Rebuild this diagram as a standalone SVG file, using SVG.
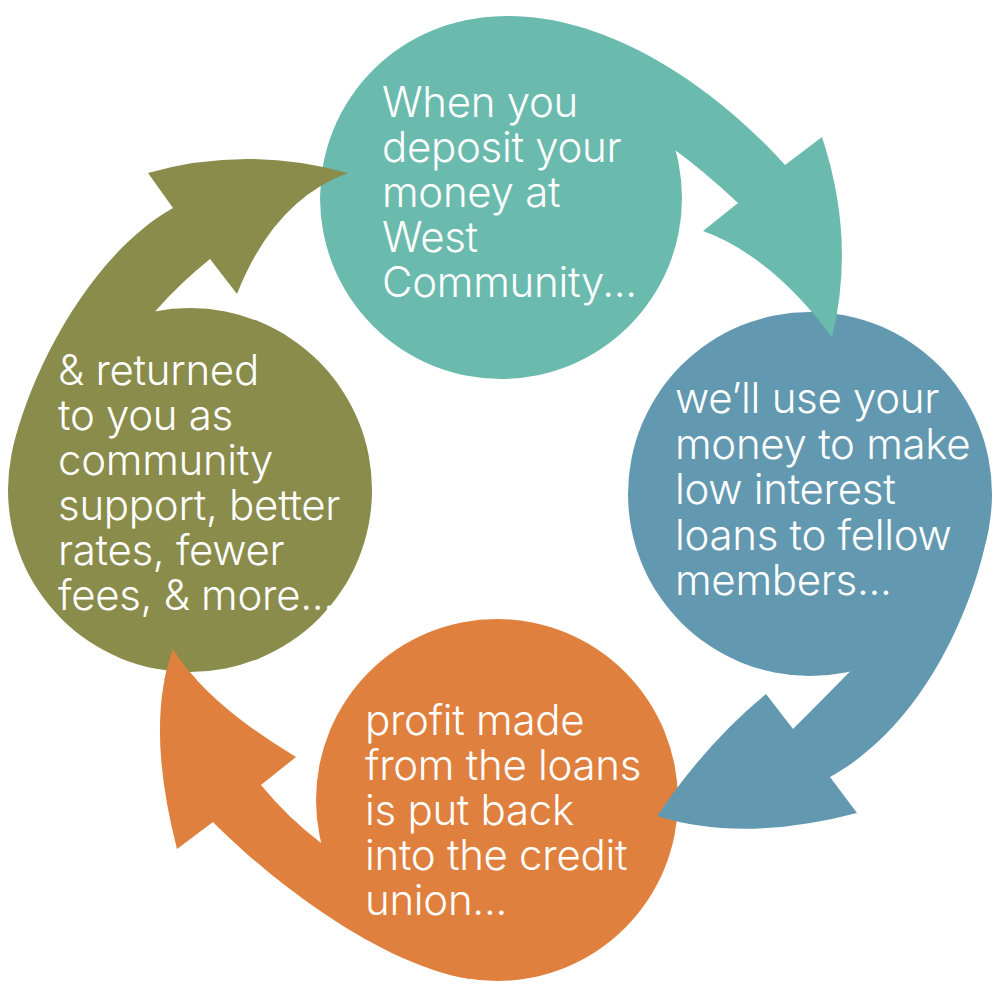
<svg xmlns="http://www.w3.org/2000/svg" xmlns:xlink="http://www.w3.org/1999/xlink" width="1000" height="1000" viewBox="0 0 1000 1000">
<style>
.teal{fill:#6BBAAE}
.blue{fill:#6399B0}
.orange{fill:#E0803E}
.olive{fill:#8A8C4C}
.lbl{fill:#FFFFFF;font-family:Inter,"Liberation Sans",sans-serif;font-size:42px;font-weight:300;letter-spacing:-0.3px}
</style>
<defs>
<clipPath id="clip-orange-tip"><rect x="150" y="630" width="70" height="50"/></clipPath>
</defs>
<rect width="1000" height="1000" fill="#FFFFFF"/>
<g id="node-deposit">
<circle class="teal" cx="501" cy="198" r="181"/>
<text class="lbl"><tspan x="382" y="117">When you</tspan><tspan x="382" y="162">deposit your</tspan><tspan x="382" y="207">money at</tspan><tspan x="382" y="252">West</tspan><tspan x="382" y="297">Community...</tspan></text>
</g>
<g id="node-loans">
<circle class="blue" cx="810" cy="494" r="182"/>
<text class="lbl"><tspan x="675" y="413">we’ll use your</tspan><tspan x="675" y="458.5">money to make</tspan><tspan x="675" y="504">low interest</tspan><tspan x="675" y="549.5">loans to fellow</tspan><tspan x="675" y="595">members...</tspan></text>
</g>
<g id="node-profit">
<circle class="orange" cx="497" cy="800" r="181"/>
<text class="lbl"><tspan x="365" y="735">profit made</tspan><tspan x="365" y="780">from the loans</tspan><tspan x="365" y="825">is put back</tspan><tspan x="365" y="870">into the credit</tspan><tspan x="365" y="915">union...</tspan></text>
</g>
<g id="connectors">
<path id="arrow-deposit-loans" class="teal" d="M 439.1,27.9 C 561.3,-16.5 700,70 785,165 L 822,137 Q 856,240 832,337 Q 770,255 703,231 L 738,203 Q 705,172 675,150 L 672.6,150.7 A 178 178 0 0 0 440.1,30.7 Z"/>
<path id="arrow-loans-profit" class="blue" d="M 989.2,525.6 C 975.3,604.4 925,725 830,777 L 857,813 Q 743,843 657,816 Q 708,741 766,694 L 793,729 Q 824,698 850,671.5 L 849.4,668.6 A 179 179 0 0 0 986.3,525.1 Z"/>
<path id="arrow-profit-returned" class="orange" d="M 469.9,979 C 380.9,965.5 270,880 213,822 L 177,849 Q 145,725 173,649 Q 206,703 296,757 L 261,785 Q 288,818 321.1,842.9 L 324.1,842.2 A 178 178 0 0 0 470.4,976 Z"/>
<path id="arrow-returned-deposit" class="olive" d="M 12.5,450 C 30.1,371.9 90,255 173,208 L 148,173 Q 246,145 348,173 Q 274,200 237,294 L 210,259 Q 180,283 155.3,311.3 L 156,315.3 A 178 178 0 0 0 16.4,450.9 Z"/>
</g>
<g id="node-returned">
<circle class="olive" cx="190" cy="490" r="182"/>
<text class="lbl"><tspan x="58" y="385">&amp; returned</tspan><tspan x="58" y="430">to you as</tspan><tspan x="58" y="475">community</tspan><tspan x="58" y="520">support, better</tspan><tspan x="58" y="565">rates, fewer</tspan><tspan x="58" y="610">fees, &amp; more...</tspan></text>
</g>
<use xlink:href="#arrow-profit-returned" clip-path="url(#clip-orange-tip)"/>
</svg>
